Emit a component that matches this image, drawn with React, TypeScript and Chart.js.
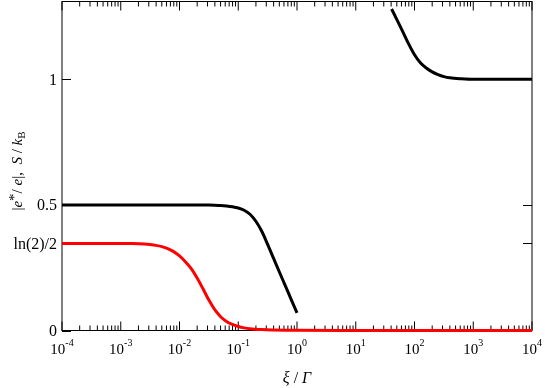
import React, { useEffect, useRef } from 'react';
import { Chart, registerables } from 'chart.js';

Chart.register(...registerables);

// ---- data ----
const xTickExponents = [-4, -3, -2, -1, 0, 1, 2, 3, 4];
const yTickValues = [0, 0.34657, 0.5, 1];
const yTickLabels = ['0', 'ln(2)/2', '0.5', '1'];

// S / k_B (red)
const entropyX = [0.0001, 0.001, 0.001585, 0.002512, 0.003162, 0.003981, 0.005012, 0.00631, 0.007943, 0.01, 0.01259, 0.01585, 0.01995, 0.02512, 0.03162, 0.03981, 0.05012, 0.0631, 0.07943, 0.1, 0.1259, 0.1585, 0.2512, 0.3981, 0.631, 1, 10, 10000];
const entropyY = [0.3466, 0.3466, 0.346, 0.344, 0.342, 0.339, 0.334, 0.326, 0.314, 0.297, 0.274, 0.246, 0.209, 0.166, 0.121, 0.083, 0.055, 0.036, 0.024, 0.016, 0.0105, 0.007, 0.0035, 0.0018, 0.0009, 0.0005, 0, 0];

// |e*/e| low-xi branch (black)
const chargeLowX = [0.0001, 0.01, 0.03162, 0.03981, 0.05012, 0.0631, 0.07943, 0.1, 0.1259, 0.1585, 0.1995, 0.2512, 0.3162, 0.3981, 0.5012, 0.631, 0.7943, 1];
const chargeLowY = [0.5, 0.5, 0.4995, 0.499, 0.498, 0.496, 0.493, 0.488, 0.479, 0.463, 0.435, 0.395, 0.343, 0.288, 0.233, 0.179, 0.124, 0.07];

// |e*/e| high-xi branch (black)
const chargeHighX = [40.74, 50.12, 63.1, 79.43, 100, 125.9, 158.5, 199.5, 251.2, 316.2, 398.1, 631, 1000, 10000];
const chargeHighY = [1.28, 1.238, 1.19, 1.141, 1.098, 1.066, 1.045, 1.03, 1.019, 1.011, 1.006, 1.002, 1.0, 1.0];

const FONT = '"Liberation Serif", "DejaVu Serif", serif';

function pts(xs: number[], ys: number[]) {
  return xs.map((x, i) => ({ x, y: ys[i] }));
}

function drawSegments(ctx: any, segs: [string, string, number][], cx: number, baseY: number, size: number) {
  const fontFor = (style: string) =>
    style === 'italic' ? `italic ${size}px ${FONT}` : style === 'small' ? `${Math.round(size * 0.7)}px ${FONT}` : `${size}px ${FONT}`;
  let total = 0;
  for (const [t, s] of segs) {
    ctx.font = fontFor(s);
    total += ctx.measureText(t).width;
  }
  let x = cx - total / 2;
  for (const [t, s, dy] of segs) {
    ctx.font = fontFor(s);
    ctx.fillText(t, x, baseY + dy);
    x += ctx.measureText(t).width;
  }
}

const framePlugin = {
  id: 'frame',
  beforeDatasetsDraw(chart: any) {
    const { ctx, chartArea: a, scales } = chart;
    const xs = scales.x;
    const ys = scales.y;
    ctx.save();
    ctx.strokeStyle = '#000';
    ctx.lineWidth = 1;
    ctx.strokeRect(a.left, a.top, a.right - a.left, a.bottom - a.top);
    ctx.beginPath();
    for (const e of xTickExponents) {
      const p = xs.getPixelForValue(Math.pow(10, e));
      ctx.moveTo(p, a.bottom); ctx.lineTo(p, a.bottom - 9);
      ctx.moveTo(p, a.top); ctx.lineTo(p, a.top + 9);
      if (e < 4) {
        for (let m = 2; m <= 9; m++) {
          const q = xs.getPixelForValue(m * Math.pow(10, e));
          ctx.moveTo(q, a.bottom); ctx.lineTo(q, a.bottom - 5);
          ctx.moveTo(q, a.top); ctx.lineTo(q, a.top + 5);
        }
      }
    }
    for (const v of yTickValues) {
      const p = Math.round(ys.getPixelForValue(v)) + 0.5;
      ctx.moveTo(a.left, p); ctx.lineTo(a.left + 9, p);
      ctx.moveTo(a.right, p); ctx.lineTo(a.right - 9, p);
    }
    ctx.stroke();
    ctx.restore();
  },
  afterDraw(chart: any) {
    const { ctx, chartArea: a, scales } = chart;
    const xs = scales.x;
    const ys = scales.y;
    ctx.save();
    ctx.fillStyle = '#000';
    // x tick labels 10^k
    ctx.textBaseline = 'alphabetic';
    ctx.textAlign = 'left';
    for (const e of xTickExponents) {
      const p = xs.getPixelForValue(Math.pow(10, e));
      ctx.font = `15px ${FONT}`;
      const w1 = ctx.measureText('10').width;
      ctx.font = `10px ${FONT}`;
      const sup = String(e);
      const w2 = ctx.measureText(sup).width;
      const x0 = p - (w1 + w2) / 2;
      ctx.font = `15px ${FONT}`;
      ctx.fillText('10', x0, 354);
      ctx.font = `10px ${FONT}`;
      ctx.fillText(sup, x0 + w1, 346);
    }
    // y tick labels
    ctx.font = `16px ${FONT}`;
    ctx.textAlign = 'right';
    ctx.textBaseline = 'middle';
    yTickValues.forEach((v, i) => {
      ctx.fillText(yTickLabels[i], a.left - 5, ys.getPixelForValue(v) + 1);
    });
    // x title
    ctx.textBaseline = 'alphabetic';
    ctx.textAlign = 'left';
    const xt: [string, string, number][] = [
      ['ξ', 'italic', 0], [' / ', 'normal', 0], ['Γ', 'italic', 0],
    ];
    drawSegments(ctx, xt, (a.left + a.right) / 2, 383, 16);
    // y title
    ctx.translate(22, 171);
    ctx.rotate(-Math.PI / 2);
    const yt: [string, string, number][] = [
      ['|', 'normal', 0], ['e', 'italic', 0], ['*', 'normal', -3], ['/ ', 'normal', 0],
      ['e', 'italic', 0], ['|,  ', 'normal', 0], ['S', 'italic', 0], [' / ', 'normal', 0],
      ['k', 'italic', 0], ['B', 'small', 3],
    ];
    drawSegments(ctx, yt, 0, 0, 15);
    ctx.restore();
  },
};

export default function App() {
  const ref = useRef<HTMLCanvasElement | null>(null);
  useEffect(() => {
    document.body.style.margin = '0';
    const canvas = ref.current;
    if (!canvas) return;
    const lineCommon = {
      borderWidth: 3,
      pointRadius: 0,
      fill: false,
      cubicInterpolationMode: 'monotone' as const,
      clip: false as any,
    };
    const chart = new Chart(canvas, {
      type: 'line',
      data: {
        datasets: [
          { ...lineCommon, label: '|e*/e| low', data: pts(chargeLowX, chargeLowY), borderColor: '#000' },
          { ...lineCommon, label: '|e*/e| high', data: pts(chargeHighX, chargeHighY), borderColor: '#000' },
          { ...lineCommon, label: 'S/kB', data: pts(entropyX, entropyY), borderColor: '#ff0000' },
        ],
      },
      options: {
        responsive: false,
        animation: false,
        layout: { padding: { left: 62, right: 13, top: 1.5, bottom: 57.5 } },
        plugins: { legend: { display: false }, tooltip: { enabled: false } },
        scales: {
          x: { type: 'logarithmic', min: 0.0001, max: 10000, display: false },
          y: { type: 'linear', min: 0, max: 1.31, display: false },
        },
      },
      plugins: [framePlugin],
    });
    return () => chart.destroy();
  }, []);
  return <canvas ref={ref} width={545} height={388} style={{ display: 'block' }} />;
}
